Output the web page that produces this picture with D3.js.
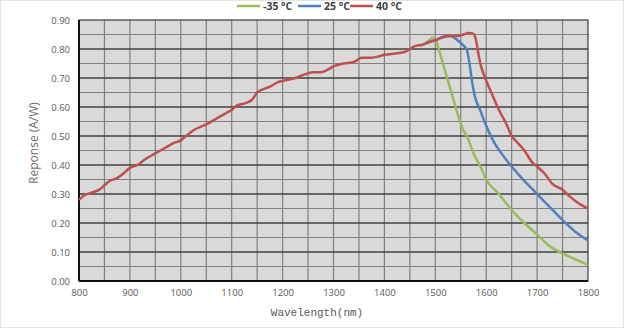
<!DOCTYPE html>
<html><head><meta charset="utf-8">
<script src="https://cdn.jsdelivr.net/npm/d3@7"></script>
<style>body{margin:0;background:#fff}svg{display:block}</style>
</head><body>
<svg id="c" width="625" height="331"></svg>
<script>
const seriesNames = ["-35 °C", "25 °C", "40 °C"];
const seriesColors = ["#9bbb59", "#4f81bd", "#c0504d"];
const xTicks = [800, 900, 1000, 1100, 1200, 1300, 1400, 1500, 1600, 1700, 1800];
const yTicks = [0, 0.1, 0.2, 0.3, 0.4, 0.5, 0.6, 0.7, 0.8, 0.9];

const greenW = [1470,1485,1495,1500,1505,1515,1525,1535,1545,1555,1562,1575,1590,1600,1625,1650,1675,1700,1725,1750,1775,1800];
const greenV = [0.81,0.825,0.84,0.835,0.81,0.75,0.69,0.63,0.57,0.52,0.50,0.44,0.39,0.35,0.30,0.245,0.20,0.16,0.12,0.095,0.075,0.055];

const blueW = [1480,1500,1520,1530,1541,1554,1562,1568,1572,1578,1588,1600,1615,1630,1650,1675,1700,1725,1750,1775,1800];
const blueV = [0.82,0.83,0.845,0.845,0.834,0.814,0.797,0.74,0.69,0.635,0.59,0.535,0.48,0.44,0.395,0.345,0.30,0.255,0.21,0.17,0.14];

const redW = [800,810,825,840,850,860,875,890,900,915,930,950,970,985,1000,1010,1025,1050,1075,1090,1100,1110,1130,1140,1150,1160,1175,1190,1200,1225,1240,1260,1275,1290,1300,1320,1340,1355,1375,1390,1400,1425,1440,1460,1475,1490,1500,1515,1530,1545,1555,1565,1575,1580,1585,1590,1598,1610,1625,1640,1650,1660,1675,1690,1700,1715,1730,1750,1765,1780,1800];
const redV = [0.28,0.295,0.305,0.315,0.33,0.345,0.355,0.375,0.39,0.40,0.42,0.44,0.46,0.475,0.485,0.50,0.52,0.54,0.565,0.58,0.59,0.605,0.615,0.625,0.65,0.66,0.67,0.685,0.69,0.70,0.71,0.72,0.72,0.73,0.74,0.75,0.755,0.77,0.77,0.775,0.78,0.785,0.79,0.81,0.815,0.825,0.83,0.84,0.845,0.845,0.85,0.855,0.852,0.83,0.78,0.74,0.70,0.65,0.59,0.54,0.50,0.48,0.45,0.41,0.395,0.37,0.335,0.315,0.29,0.27,0.25];

const svg = d3.select("#c");
const L = 79, R = 588, T = 20, B = 281;
const x = d3.scaleLinear().domain([800, 1800]).range([L, R]);
const y = d3.scaleLinear().domain([0, 0.9]).range([B, T]);

svg.append("rect").attr("x",0.5).attr("y",0.5).attr("width",623).attr("height",327)
  .attr("fill","#fff").attr("stroke","#e3e3e3");

svg.append("rect").attr("x",L).attr("y",T).attr("width",R-L).attr("height",B-T).attr("fill","#d9d9d9");

const g = svg.append("g");
d3.range(850, 1800, 50).forEach(w => {
  g.append("line").attr("x1",x(w)).attr("x2",x(w)).attr("y1",T).attr("y2",B)
    .attr("stroke","#7f7f7f").attr("stroke-width",1.2);
});
d3.range(1, 18).forEach(i => {
  const v = i*0.05;
  const major = i % 2 === 0;
  g.append("line").attr("x1",L).attr("x2",R).attr("y1",y(v)).attr("y2",y(v))
    .attr("stroke", major ? "#404040" : "#808080").attr("stroke-width", major ? 1.5 : 1.2);
});
svg.append("rect").attr("x",L).attr("y",T).attr("width",R-L).attr("height",B-T)
  .attr("fill","none").attr("stroke","#3a3a3a").attr("stroke-width",1.2);
svg.append("line").attr("x1",L).attr("x2",L).attr("y1",T).attr("y2",B).attr("stroke","#111").attr("stroke-width",2);
svg.append("line").attr("x1",L).attr("x2",R).attr("y1",B).attr("y2",B).attr("stroke","#111").attr("stroke-width",2);

const xa = svg.append("g").attr("transform",`translate(0,${B})`)
  .call(d3.axisBottom(x).tickValues(xTicks).tickFormat(d3.format("d")).tickSize(0).tickPadding(8));
const ya = svg.append("g").attr("transform",`translate(${L},0)`)
  .call(d3.axisLeft(y).tickValues(yTicks).tickFormat(d3.format(".2f")).tickSize(0).tickPadding(9));
[xa, ya].forEach(a => {
  a.select(".domain").remove();
  a.selectAll("text").attr("font-family","'Open Sans', sans-serif").attr("font-size","9.5px").attr("fill","#595959");
});

const line = d3.line().x(d => x(d[0])).y(d => y(d[1])).curve(d3.curveMonotoneX);
const data = [d3.zip(greenW, greenV), d3.zip(blueW, blueV), d3.zip(redW, redV)];
data.forEach((d, i) => {
  svg.append("path").datum(d).attr("d", line).attr("fill","none")
    .attr("stroke", seriesColors[i]).attr("stroke-width", 2.5).attr("stroke-linejoin","round");
});

const legX = [237, 298, 350];
seriesNames.forEach((n, i) => {
  svg.append("line").attr("x1",legX[i]).attr("x2",legX[i]+23).attr("y1",6).attr("y2",6)
    .attr("stroke",seriesColors[i]).attr("stroke-width",2.5);
  svg.append("text").attr("x",legX[i]+26).attr("y",10).text(n)
    .attr("font-family","'Open Sans', sans-serif").attr("font-weight","bold").attr("font-size","10.5px").attr("fill","#404040");
});

svg.append("text").attr("transform","translate(38,143) rotate(-90)").attr("text-anchor","middle")
  .attr("font-family","'Open Sans', sans-serif").attr("font-size","12px").attr("fill","#707070").text("Reponse (A/W)");
svg.append("text").attr("x",317).attr("y",316).attr("text-anchor","middle")
  .attr("font-family","'Liberation Mono', monospace").attr("font-size","11px").attr("fill","#595959").text("Wavelength(nm)");
</script>
</body></html>
